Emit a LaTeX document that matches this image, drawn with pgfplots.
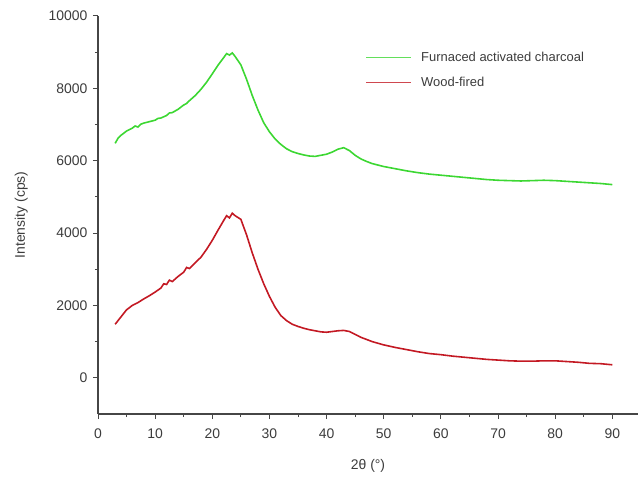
\documentclass[border=0pt]{standalone}
\usepackage{pgfplots}
\pgfplotsset{compat=1.18}
\usepackage{fontspec}
\setmainfont{Liberation Sans}
\definecolor{fgreen}{RGB}{60,215,50}
\definecolor{wred}{RGB}{195,25,35}
\definecolor{axgrey}{RGB}{70,70,70}
\definecolor{txtgrey}{RGB}{60,60,60}

\pgfplotstableread{
x y
3 6480
3.5 6620
4 6700
4.5 6760
5 6820
6 6900
6.5 6960
7 6930
7.5 7010
8 7040
9 7080
10 7120
10.5 7170
11 7180
12 7250
12.5 7320
13 7330
14 7420
15 7540
15.5 7580
16 7660
17 7800
18 7970
19 8170
20 8400
21 8640
22 8850
22.5 8960
23 8920
23.5 8980
24 8880
25 8650
26 8250
27 7800
28 7400
29 7050
30 6800
31 6600
32 6450
33 6330
34 6250
35 6200
36 6160
37 6130
38 6120
39 6150
40 6180
41 6240
42 6320
43 6360
44 6280
45 6150
46 6050
47 5980
48 5920
50 5840
52 5780
54 5720
56 5670
58 5630
60 5600
62 5570
64 5540
66 5510
68 5480
70 5460
72 5450
74 5440
76 5450
78 5460
80 5450
82 5430
84 5410
86 5390
88 5370
90 5340
}\furnace

\pgfplotstableread{
x y
3 1480
4 1680
5 1880
6 2000
7 2080
8 2180
9 2270
10 2370
11 2480
11.5 2600
12 2580
12.5 2700
13 2660
14 2800
15 2920
15.5 3050
16 3020
17 3180
18 3330
19 3550
20 3800
21 4080
22 4350
22.5 4480
23 4420
23.5 4550
24 4480
25 4380
26 3950
27 3450
28 3000
29 2600
30 2250
31 1950
32 1720
33 1580
34 1480
35 1420
36 1370
37 1330
38 1300
39 1270
40 1260
41 1280
42 1300
43 1310
44 1280
45 1200
46 1120
47 1060
48 1000
50 910
52 840
54 780
56 720
58 670
60 640
62 600
64 570
66 540
68 510
70 490
72 470
74 460
76 460
78 470
80 470
82 450
84 430
86 400
88 390
90 360
}\woodfired

\begin{document}
\begin{tikzpicture}
\begin{axis}[
    scale only axis,
    width=540bp, height=398bp,
    xmin=0, xmax=94.5,
    ymin=-1000, ymax=10000,
    axis x line=bottom, axis y line=left,
    axis line style={-, axgrey, line width=1.4pt},
    xtick={0,10,...,90}, minor xtick={5,15,...,85},
    ytick={0,2000,...,10000}, minor ytick={1000,3000,...,9000},
    tick align=outside,
    major tick length=5bp, minor tick length=3bp,
    tick style={axgrey, line width=1pt},
    scaled y ticks=false,
    yticklabel style={/pgf/number format/1000 sep={}, xshift=-2bp},
    xticklabel style={yshift=-6bp},
    /pgf/number format/assume math mode=true,
    tick label style={font=\fontsize{14}{16}\selectfont, text=txtgrey},
    label style={font=\fontsize{14}{16}\selectfont, text=txtgrey},
    xlabel={2θ (°)},
    ylabel={Intensity (cps)},
    xlabel style={yshift=-14bp},
    ylabel style={yshift=14bp},
    legend style={draw=none, fill=none, at={(0.49,0.92)}, anchor=north west,
        font=\fontsize{13}{15}\selectfont, text=txtgrey, row sep=10bp},
    legend cell align=left,
    legend image code/.code={%
        \draw[#1, line width=1.3pt, opacity=0.8] (0bp,0bp) -- (45bp,0bp);
        \path (52bp,0bp);},
]
\addplot[fgreen, line width=1.6pt] table {\furnace};
\addlegendentry{Furnaced activated charcoal}
\addplot[wred, line width=1.6pt] table {\woodfired};
\addlegendentry{Wood-fired}
\coordinate (ax0) at (rel axis cs:0,0);
\end{axis}
\pgfresetboundingbox
\path (ax0) ++(-98bp,-67bp) coordinate (bl);
\useasboundingbox (bl) rectangle ++(638bp,481bp);
\end{tikzpicture}
\end{document}
